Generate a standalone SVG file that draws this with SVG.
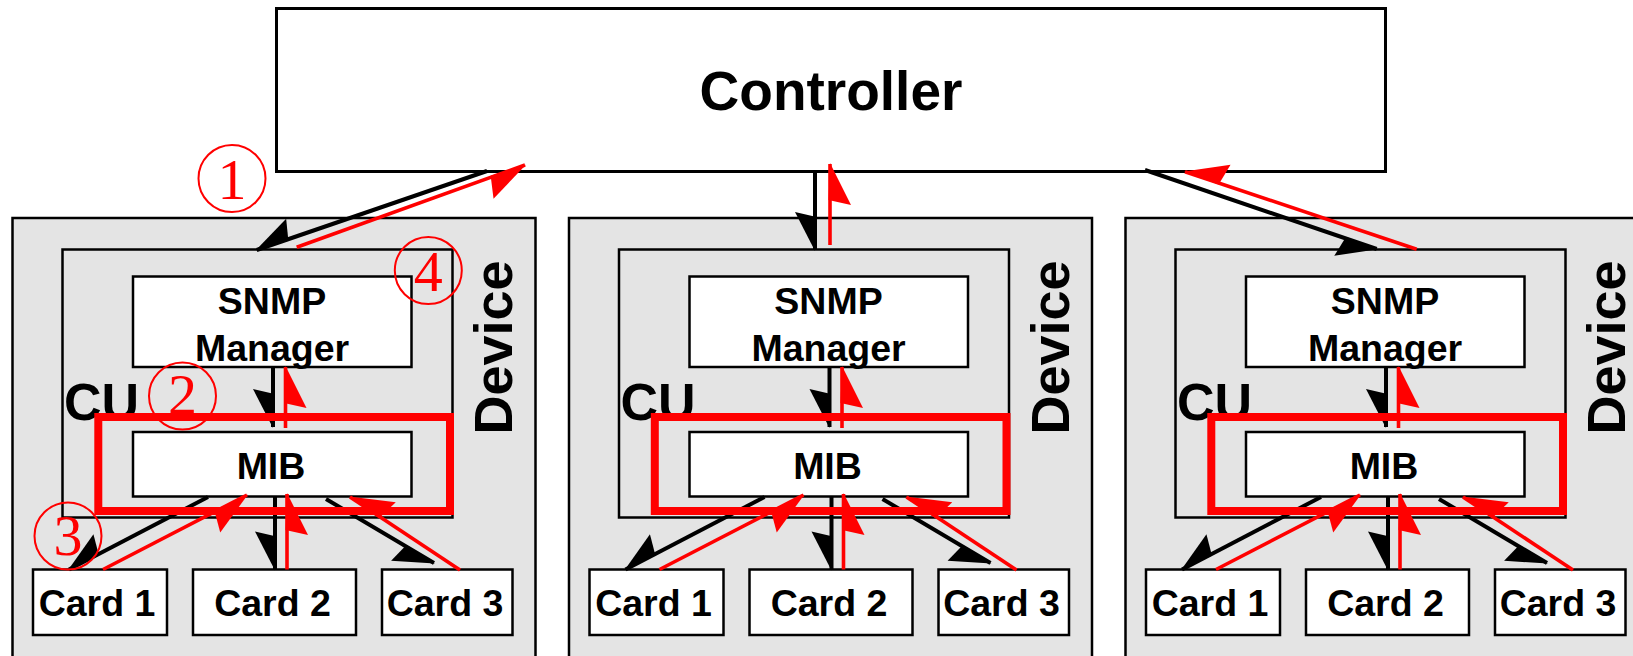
<svg xmlns="http://www.w3.org/2000/svg" width="1633" height="656" viewBox="0 0 1633 656">
  <style>
    .box { fill: #fff; stroke: #000; stroke-width: 2.5; }
    .dev { fill: #e4e4e4; stroke: #000; stroke-width: 2.5; }
    .cu { fill: none; stroke: #000; stroke-width: 2.5; }
    .lbl { font-family: "Liberation Sans", Arial, Helvetica, sans-serif; font-weight: bold; fill: #000; }
    .mid { font-size: 37.5px; text-anchor: middle; }
    .big { font-size: 54px; }
    .cb { stroke: #000; stroke-width: 4; fill: none; marker-end: url(#hb); }
    .cr { stroke: #f00; stroke-width: 3.6; fill: none; marker-end: url(#hr); }
    .hl { fill: none; stroke: #f00; stroke-width: 8; }
    .ann circle { fill: none; stroke: #f00; stroke-width: 2; }
    .ann text { font-family: "Liberation Serif", "Times New Roman", serif; font-size: 58px; fill: #f00; text-anchor: middle; }
  </style>
  <defs>
    <!-- one-sided (half) arrowheads, barb on the outer side of each pair -->
    <marker id="hb" viewBox="-44 -4 47 29" refX="0" refY="0" markerWidth="47" markerHeight="29" markerUnits="userSpaceOnUse" orient="auto">
      <path d="M1,0 L-38,20 L-33,-1.5 Z" fill="#000"/>
    </marker>
    <marker id="hr" viewBox="-46 -4 49 30" refX="0" refY="0" markerWidth="49" markerHeight="30" markerUnits="userSpaceOnUse" orient="auto">
      <path d="M1,0 L-41,21 L-36,-1.5 Z" fill="#f00"/>
    </marker>
  </defs>

  <rect width="1633" height="656" fill="#fff"/>

  <!-- controller -->
  <g id="controller">
    <rect class="box" x="276.5" y="8.5" width="1109" height="163" style="stroke-width:3"/>
    <text class="lbl big" x="831" y="110" text-anchor="middle" style="font-size:55px">Controller</text>
  </g>

  <!-- device 1 -->
  <g id="device1">
    <rect class="dev" x="12.5" y="218" width="523" height="450"/>
    <text class="lbl big" transform="translate(512 347.5) rotate(-90)" text-anchor="middle">Device</text>
    <g id="cu1">
      <rect class="cu" x="62.5" y="249.5" width="390" height="268"/>
      <text class="lbl" x="64" y="420" style="font-size:52px">CU</text>
    </g>
    <g id="snmp1">
      <rect class="box" x="133" y="276.5" width="278.5" height="90.5"/>
      <text class="lbl mid" x="272" y="314">SNMP</text>
      <text class="lbl mid" x="272" y="361">Manager</text>
    </g>
    <g id="mib1">
      <rect class="box" x="133" y="432" width="278.5" height="64.5"/>
      <text class="lbl mid" x="271" y="479">MIB</text>
    </g>
    <g id="card1-1">
      <rect class="box" x="33" y="569.5" width="134" height="65.5"/>
      <text class="lbl mid" x="97" y="616">Card 1</text>
    </g>
    <g id="card1-2">
      <rect class="box" x="193" y="569.5" width="163" height="65.5"/>
      <text class="lbl mid" x="272.5" y="616">Card 2</text>
    </g>
    <g id="card1-3">
      <rect class="box" x="382" y="569.5" width="130.5" height="65.5"/>
      <text class="lbl mid" x="445" y="616">Card 3</text>
    </g>
  </g>

  <!-- device 2 -->
  <g id="device2" transform="translate(556.5 0)">
    <rect class="dev" x="12.5" y="218" width="523" height="450"/>
    <text class="lbl big" transform="translate(512 347.5) rotate(-90)" text-anchor="middle">Device</text>
    <g id="cu2">
      <rect class="cu" x="62.5" y="249.5" width="390" height="268"/>
      <text class="lbl" x="64" y="420" style="font-size:52px">CU</text>
    </g>
    <g id="snmp2">
      <rect class="box" x="133" y="276.5" width="278.5" height="90.5"/>
      <text class="lbl mid" x="272" y="314">SNMP</text>
      <text class="lbl mid" x="272" y="361">Manager</text>
    </g>
    <g id="mib2">
      <rect class="box" x="133" y="432" width="278.5" height="64.5"/>
      <text class="lbl mid" x="271" y="479">MIB</text>
    </g>
    <g id="card2-1">
      <rect class="box" x="33" y="569.5" width="134" height="65.5"/>
      <text class="lbl mid" x="97" y="616">Card 1</text>
    </g>
    <g id="card2-2">
      <rect class="box" x="193" y="569.5" width="163" height="65.5"/>
      <text class="lbl mid" x="272.5" y="616">Card 2</text>
    </g>
    <g id="card2-3">
      <rect class="box" x="382" y="569.5" width="130.5" height="65.5"/>
      <text class="lbl mid" x="445" y="616">Card 3</text>
    </g>
  </g>

  <!-- device 3 -->
  <g id="device3" transform="translate(1113 0)">
    <rect class="dev" x="12.5" y="218" width="523" height="450"/>
    <text class="lbl big" transform="translate(512 347.5) rotate(-90)" text-anchor="middle">Device</text>
    <g id="cu3">
      <rect class="cu" x="62.5" y="249.5" width="390" height="268"/>
      <text class="lbl" x="64" y="420" style="font-size:52px">CU</text>
    </g>
    <g id="snmp3">
      <rect class="box" x="133" y="276.5" width="278.5" height="90.5"/>
      <text class="lbl mid" x="272" y="314">SNMP</text>
      <text class="lbl mid" x="272" y="361">Manager</text>
    </g>
    <g id="mib3">
      <rect class="box" x="133" y="432" width="278.5" height="64.5"/>
      <text class="lbl mid" x="271" y="479">MIB</text>
    </g>
    <g id="card3-1">
      <rect class="box" x="33" y="569.5" width="134" height="65.5"/>
      <text class="lbl mid" x="97" y="616">Card 1</text>
    </g>
    <g id="card3-2">
      <rect class="box" x="193" y="569.5" width="163" height="65.5"/>
      <text class="lbl mid" x="272.5" y="616">Card 2</text>
    </g>
    <g id="card3-3">
      <rect class="box" x="382" y="569.5" width="130.5" height="65.5"/>
      <text class="lbl mid" x="445" y="616">Card 3</text>
    </g>
  </g>

  <!-- connectors: black = request down, red = response up -->
  <g id="connectors">
    <path class="cb" d="M487,171 L256.7,250"/>
    <path class="cr" d="M296.7,247.3 L525,165"/>
    <path class="cb" d="M815,172 L815,250"/>
    <path class="cr" d="M830,245 L830,164"/>
    <path class="cb" d="M1145,170 L1376.7,249"/>
    <path class="cr" d="M1416.7,249.3 L1185,171.7"/>
    <g id="inner1">
      <path class="cb" d="M273,367 L273,427"/>
      <path class="cr" d="M285.5,428 L285.5,367"/>
      <path class="cb" d="M208,497 L69,569.5"/>
      <path class="cr" d="M103,569.5 L247,495"/>
      <path class="cb" d="M275,497 L275,569.5"/>
      <path class="cr" d="M287,569.5 L287,494"/>
      <path class="cb" d="M326,499 L434,563"/>
      <path class="cr" d="M460,570 L350,497"/>
    </g>
    <g id="inner2" transform="translate(556.5 0)">
      <path class="cb" d="M273,367 L273,427"/>
      <path class="cr" d="M285.5,428 L285.5,367"/>
      <path class="cb" d="M208,497 L69,569.5"/>
      <path class="cr" d="M103,569.5 L247,495"/>
      <path class="cb" d="M275,497 L275,569.5"/>
      <path class="cr" d="M287,569.5 L287,494"/>
      <path class="cb" d="M326,499 L434,563"/>
      <path class="cr" d="M460,570 L350,497"/>
    </g>
    <g id="inner3" transform="translate(1113 0)">
      <path class="cb" d="M273,367 L273,427"/>
      <path class="cr" d="M285.5,428 L285.5,367"/>
      <path class="cb" d="M208,497 L69,569.5"/>
      <path class="cr" d="M103,569.5 L247,495"/>
      <path class="cb" d="M275,497 L275,569.5"/>
      <path class="cr" d="M287,569.5 L287,494"/>
      <path class="cb" d="M326,499 L434,563"/>
      <path class="cr" d="M460,570 L350,497"/>
    </g>
  </g>

  <!-- MIB highlight frames -->
  <g id="highlights">
    <rect class="hl" x="98.3" y="417" width="351.7" height="94"/>
    <rect class="hl" x="654.8" y="417" width="351.7" height="94"/>
    <rect class="hl" x="1211.3" y="417" width="351.7" height="94"/>
  </g>

  <!-- step markers -->
  <g id="steps" class="ann">
    <g id="step1"><circle cx="232" cy="178.5" r="33.5"/><text x="232" y="199">1</text></g>
    <g id="step2"><circle cx="182.5" cy="396" r="33.5"/><text x="182.5" y="414">2</text></g>
    <g id="step3"><circle cx="68" cy="536" r="33.5"/><text x="68" y="555">3</text></g>
    <g id="step4"><circle cx="428.3" cy="270.5" r="33.5"/><text x="428.3" y="291">4</text></g>
  </g>
</svg>
